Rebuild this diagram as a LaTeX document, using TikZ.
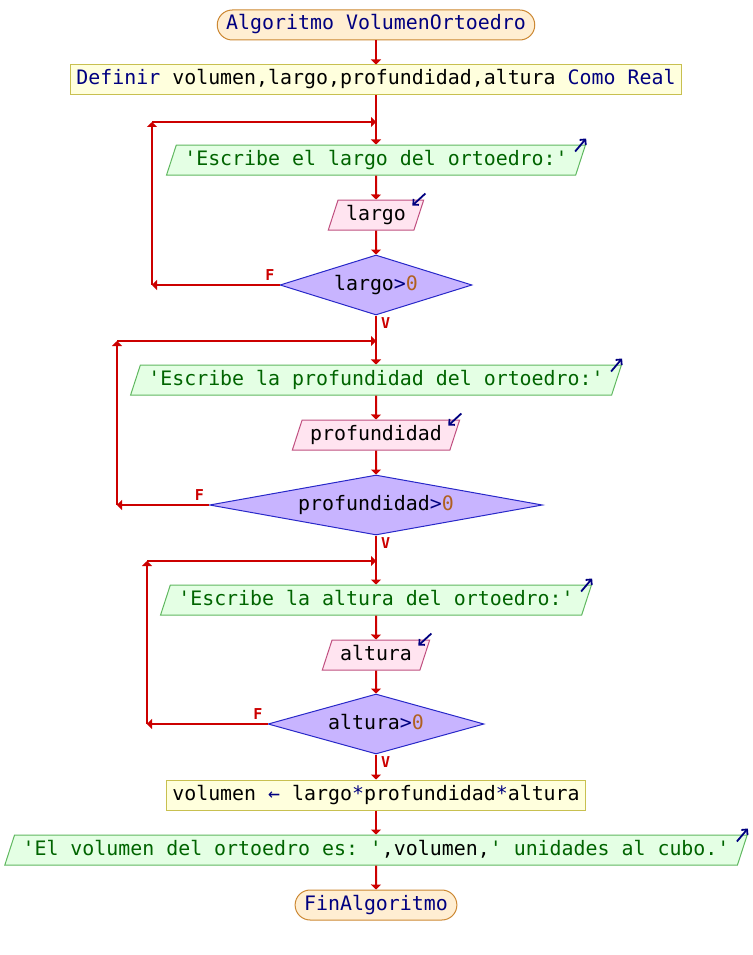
\documentclass[tikz,border=0pt]{standalone}
\usepackage{fontspec}
\setmonofont{DejaVu Sans Mono}
\usetikzlibrary{shapes.geometric,arrows.meta,positioning}

\definecolor{linkred}{RGB}{204,0,0}
\definecolor{kwblue}{RGB}{0,0,128}
\definecolor{numbrown}{RGB}{176,96,32}
\definecolor{strgreen}{RGB}{0,100,0}
\definecolor{termfill}{RGB}{255,238,210}
\definecolor{termdraw}{RGB}{204,136,51}
\definecolor{procfill}{RGB}{255,255,221}
\definecolor{procdraw}{RGB}{200,192,80}
\definecolor{outfill}{RGB}{228,255,228}
\definecolor{outdraw}{RGB}{96,184,96}
\definecolor{infill}{RGB}{255,228,240}
\definecolor{indraw}{RGB}{192,80,128}
\definecolor{decfill}{RGB}{200,180,255}
\definecolor{decdraw}{RGB}{40,40,200}

\tikzset{
  flowbox/.style={font=\ttfamily\frenchspacing\fontsize{19.9}{20}\selectfont, text height=15pt, text depth=5pt, inner ysep=5pt, line width=1pt},
  termbox/.style={flowbox, rectangle, rounded corners=15pt, draw=termdraw, fill=termfill, inner xsep=9pt, text=kwblue},
  procbox/.style={flowbox, rectangle, draw=procdraw, fill=procfill, inner xsep=6pt},
  iobox/.style={flowbox, trapezium, trapezium left angle=72, trapezium right angle=108, inner xsep=8pt},
  outbox/.style={iobox, draw=outdraw, fill=outfill, text=strgreen},
  inbox/.style={iobox, draw=indraw, fill=infill},
  condbox/.style={flowbox, diamond, aspect=4, inner sep=0pt, minimum height=60pt, draw=decdraw, fill=decfill},
  link/.style={draw=linkred, line width=2pt, -{Triangle[length=5pt,width=10pt]}},
  branchtag/.style={text=linkred, inner sep=0pt, font=\ttfamily\bfseries\fontsize{15}{15}\selectfont},
  ioicon/.style={draw=kwblue, line width=1.8pt, -{Straight Barb[length=4pt,width=8pt]}}
}

\begin{document}
\begin{tikzpicture}[x=1pt,y=-1pt]
\useasboundingbox (0,0) rectangle (752,955);

\node[termbox] (start) at (376,25) {Algoritmo VolumenOrtoedro};
\node[procbox] (defs) at (376,80) {\textcolor{kwblue}{Definir} volumen,largo,profundidad,altura \textcolor{kwblue}{Como Real}};

\node[outbox] (askL) at (376,160) {'Escribe el largo del ortoedro:'};
\node[inbox] (readL) at (376,215) {largo};
\node[condbox, minimum width=192pt] (testL) at (376,285) {largo\textcolor{kwblue}{>}\textcolor{numbrown}{0}};

\node[outbox] (askP) at (376,380) {'Escribe la profundidad del ortoedro:'};
\node[inbox] (readP) at (376,435) {profundidad};
\node[condbox, minimum width=333pt] (testP) at (376,505) {profundidad\textcolor{kwblue}{>}\textcolor{numbrown}{0}};

\node[outbox] (askA) at (376,600) {'Escribe la altura del ortoedro:'};
\node[inbox] (readA) at (376,655) {altura};
\node[condbox, minimum width=216pt] (testA) at (376,724) {altura\textcolor{kwblue}{>}\textcolor{numbrown}{0}};

\node[procbox] (calc) at (376,795) {volumen \textcolor{kwblue}{←} largo\textcolor{kwblue}{*}profundidad\textcolor{kwblue}{*}altura};
\node[outbox] (show) at (376,850) {'El volumen del ortoedro es: '\textcolor{black}{,volumen,}' unidades al cubo.'};
\node[termbox] (stop) at (376,905) {FinAlgoritmo};

% main line
\draw[link] (start) -- (defs);
\draw[link] (defs) -- (askL);
\draw[link] (askL) -- (readL);
\draw[link] (readL) -- (testL);
\draw[link] (testL) -- (askP);
\draw[link] (askP) -- (readP);
\draw[link] (readP) -- (testP);
\draw[link] (testP) -- (askA);
\draw[link] (askA) -- (readA);
\draw[link] (readA) -- (testA);
\draw[link] (testA) -- (calc);
\draw[link] (calc) -- (show);
\draw[link] (show) -- (stop);

% loops back
\coordinate (joinL) at (376,122);
\coordinate (cornL) at (152,122);
\coordinate (backL) at (152,285);
\draw[link] (testL.west) -- (backL);
\draw[link] (backL) -- (cornL);
\draw[link] (cornL) -- (joinL);

\coordinate (joinP) at (376,341);
\coordinate (cornP) at (117,341);
\coordinate (backP) at (117,505);
\draw[link] (testP.west) -- (backP);
\draw[link] (backP) -- (cornP);
\draw[link] (cornP) -- (joinP);

\coordinate (joinA) at (376,561);
\coordinate (cornA) at (147,561);
\coordinate (backA) at (147,724);
\draw[link] (testA.west) -- (backA);
\draw[link] (backA) -- (cornA);
\draw[link] (cornA) -- (joinA);

\node[branchtag, above left=4pt and 5pt] (noL) at (testL.west) {F};
\node[branchtag, above left=4pt and 5pt] (noP) at (testP.west) {F};
\node[branchtag, above left=4pt and 5pt] (noA) at (testA.west) {F};
\node[branchtag, below right=2pt and 5pt] (yesL) at (testL.south) {V};
\node[branchtag, below right=2pt and 5pt] (yesP) at (testP.south) {V};
\node[branchtag, below right=2pt and 5pt] (yesA) at (testA.south) {V};

% io marks
\draw[ioicon] ([xshift=-11pt,yshift=-7pt]askL.top right corner) -- ++(11,-13);
\draw[ioicon] ([xshift=-11pt,yshift=-7pt]askP.top right corner) -- ++(11,-13);
\draw[ioicon] ([xshift=-11pt,yshift=-7pt]askA.top right corner) -- ++(11,-13);
\draw[ioicon] ([xshift=-11pt,yshift=-7pt]show.top right corner) -- ++(11,-13);
\draw[ioicon] ([xshift=1pt,yshift=6pt]readL.top right corner) -- ++(-13,12);
\draw[ioicon] ([xshift=1pt,yshift=6pt]readP.top right corner) -- ++(-13,12);
\draw[ioicon] ([xshift=1pt,yshift=6pt]readA.top right corner) -- ++(-13,12);
\end{tikzpicture}
\end{document}
